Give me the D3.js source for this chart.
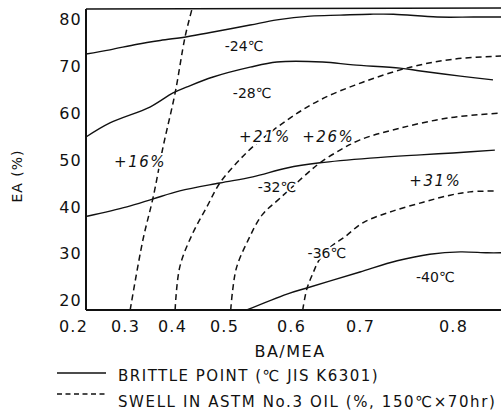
<!DOCTYPE html>
<html>
<head>
<meta charset="utf-8">
<script src="https://cdn.jsdelivr.net/npm/d3@7"></script>
<style>
body { margin: 0; background: #fff; }
svg text { font-family: "DejaVu Sans", sans-serif; fill: #111; }
</style>
</head>
<body>
<div id="chart"></div>
<script>
// tick labels
const xTicks = [0.2, 0.3, 0.4, 0.5, 0.6, 0.7, 0.8];
const yTicks = [20, 30, 40, 50, 60, 70, 80];

// brittle point contours (solid), [BA/MEA, EA %]
const brittleA = [[0.225,72.6],[0.271,73.5],[0.326,74.7],[0.375,75.5],[0.429,76.3],[0.479,77.3],[0.539,78.8],[0.579,79.9],[0.628,80.7],[0.671,80.9],[0.711,81.1],[0.736,81.1],[0.783,80.5],[0.822,80.5],[0.852,80.5]];
const brittleB = [[0.225,54.9],[0.271,57.9],[0.353,61.3],[0.402,64.3],[0.429,65.6],[0.479,67.7],[0.539,69.8],[0.579,70.9],[0.646,70.9],[0.690,70.3],[0.743,69.6],[0.765,69.0],[0.808,67.9],[0.843,67.1]];
const brittleC = [[0.227,38.0],[0.304,40.0],[0.360,41.7],[0.415,43.4],[0.492,45.1],[0.543,46.4],[0.594,48.3],[0.642,49.4],[0.711,50.4],[0.765,51.1],[0.800,51.5],[0.845,52.1]];
const brittleD = [[0.534,18.0],[0.594,21.4],[0.623,22.7],[0.657,24.2],[0.700,26.1],[0.740,28.5],[0.775,29.9],[0.808,30.4],[0.837,30.2],[0.852,30.2]];

// swell contours (dashed)
const swell16 = [[0.311,18],[0.338,32.9],[0.360,42.1],[0.381,52.8],[0.406,64.3],[0.425,76.2],[0.438,82.0]];
const swell21 = [[0.406,18],[0.415,27.2],[0.440,34.4],[0.467,40.0],[0.492,45.1],[0.519,49.4],[0.546,53.2],[0.594,58.5],[0.642,62.8],[0.703,66.6],[0.754,69.8],[0.800,71.5],[0.852,72.2]];
const swell26 = [[0.510,18],[0.513,22.3],[0.519,27.2],[0.536,32.9],[0.557,38.3],[0.584,41.9],[0.624,47.2],[0.642,49.4],[0.671,52.1],[0.700,54.3],[0.743,56.8],[0.796,59.0],[0.852,60.0]];
const swell31 = [[0.617,18],[0.623,22.5],[0.632,25.9],[0.641,28.7],[0.657,31.4],[0.678,33.6],[0.703,36.6],[0.732,38.9],[0.768,41.0],[0.797,42.5],[0.818,43.2],[0.844,43.4]];

const brittleLabels = [
    { text: '-24℃', at: [0.530, 74.3] },
    { text: '-28℃', at: [0.542, 64.3] },
    { text: '-32℃', at: [0.579, 44.2] },
    { text: '-36℃', at: [0.652, 30.2] },
    { text: '-40℃', at: [0.781, 25.0] }
];
const swellLabels = [
    { text: '+16%', at: [0.332, 49.6] },
    { text: '+21%', at: [0.561, 54.9] },
    { text: '+26%', at: [0.654, 54.9] },
    { text: '+31%', at: [0.781, 45.7] }
];

const width = 501;
const height = 412;
const plotLeft = 86, plotRight = 501, plotTop = 8, plotBottom = 310;

// the printed x axis is not evenly spaced, so the scale is piecewise
let xScale = d3.scaleLinear()
    .domain(xTicks)
    .range([73, 125, 172, 224, 291, 360, 453]);

let yScale = d3.scaleLinear()
    .domain([18, 82])
    .range([plotBottom, 10]);

let svg = d3.select('#chart').append('svg')
    .attr('width', width)
    .attr('height', height);

svg.append('clipPath').attr('id', 'plot-clip')
    .append('rect')
    .attr('x', plotLeft).attr('y', plotTop)
    .attr('width', plotRight - plotLeft).attr('height', plotBottom - plotTop);

let line = d3.line()
    .x(d => xScale(d[0]))
    .y(d => yScale(d[1]))
    .curve(d3.curveCatmullRom.alpha(0.5));

let plot = svg.append('g').attr('clip-path', 'url(#plot-clip)');

plot.selectAll('path.brittle')
    .data([brittleA, brittleB, brittleC, brittleD])
    .enter().append('path')
    .attr('class', 'brittle')
    .attr('d', line)
    .attr('fill', 'none')
    .attr('stroke', '#111')
    .attr('stroke-width', 1.4);

plot.selectAll('path.swell')
    .data([swell16, swell21, swell26, swell31])
    .enter().append('path')
    .attr('class', 'swell')
    .attr('d', line)
    .attr('fill', 'none')
    .attr('stroke', '#111')
    .attr('stroke-width', 1.5)
    .attr('stroke-dasharray', '6,4');

// frame
svg.append('line')
    .attr('x1', plotLeft).attr('x2', plotRight).attr('y1', plotTop + 1).attr('y2', plotTop)
    .attr('stroke', '#111').attr('stroke-width', 1.5);
svg.append('line')
    .attr('x1', plotLeft).attr('x2', plotRight).attr('y1', plotBottom).attr('y2', plotBottom)
    .attr('stroke', '#111').attr('stroke-width', 1.8);
svg.append('line')
    .attr('x1', plotLeft).attr('x2', plotLeft).attr('y1', plotTop + 1).attr('y2', plotBottom)
    .attr('stroke', '#111').attr('stroke-width', 2);

// contour labels, white halo breaks the curves under them
let labels = svg.append('g');
labels.selectAll('text.brittle-label')
    .data(brittleLabels)
    .enter().append('text')
    .attr('class', 'brittle-label')
    .attr('x', d => xScale(d.at[0]))
    .attr('y', d => yScale(d.at[1]))
    .attr('dy', '0.36em')
    .attr('text-anchor', 'middle')
    .attr('font-size', 14)
    .attr('stroke', '#fff').attr('stroke-width', 4).attr('paint-order', 'stroke')
    .text(d => d.text);
labels.selectAll('text.swell-label')
    .data(swellLabels)
    .enter().append('text')
    .attr('class', 'swell-label')
    .attr('x', d => xScale(d.at[0]))
    .attr('y', d => yScale(d.at[1]))
    .attr('dy', '0.36em')
    .attr('text-anchor', 'middle')
    .attr('font-size', 15)
    .attr('letter-spacing', 1.5)
    .attr('font-style', 'italic')
    .attr('stroke', '#fff').attr('stroke-width', 4).attr('paint-order', 'stroke')
    .text(d => d.text);

// axes
let xAxis = svg.append('g')
    .attr('transform', `translate(0, ${plotBottom})`)
    .call(d3.axisBottom(xScale).tickValues(xTicks).tickSize(0).tickPadding(11).tickFormat(d3.format('.1f')));
xAxis.select('.domain').remove();
xAxis.selectAll('text').attr('font-size', 16).attr('letter-spacing', 1.2);
xAxis.attr('font-family', null);

let yAxis = svg.append('g')
    .attr('transform', `translate(${plotLeft}, 0)`)
    .call(d3.axisLeft(yScale).tickValues(yTicks).tickSize(0).tickPadding(4));
yAxis.select('.domain').remove();
yAxis.selectAll('text').attr('font-size', 16).attr('letter-spacing', 1.2);
yAxis.attr('font-family', null);

svg.append('text')
    .attr('x', 290).attr('y', 357)
    .attr('text-anchor', 'middle')
    .attr('font-size', 16)
    .attr('letter-spacing', 1.5)
    .text('BA/MEA');

svg.append('text')
    .attr('transform', 'translate(22, 176) rotate(-90)')
    .attr('text-anchor', 'middle')
    .attr('font-size', 14)
    .attr('letter-spacing', 1)
    .text('EA (%)');

// legend
svg.append('line')
    .attr('x1', 57).attr('x2', 106).attr('y1', 373).attr('y2', 373)
    .attr('stroke', '#111').attr('stroke-width', 1.4);
svg.append('text')
    .attr('x', 118).attr('y', 381)
    .attr('font-size', 15)
    .attr('letter-spacing', 1.5)
    .text('BRITTLE POINT (℃ JIS K6301)');
svg.append('line')
    .attr('x1', 57).attr('x2', 106).attr('y1', 394).attr('y2', 394)
    .attr('stroke', '#111').attr('stroke-width', 1.4)
    .attr('stroke-dasharray', '5,3.5');
svg.append('text')
    .attr('x', 118).attr('y', 407)
    .attr('font-size', 15)
    .attr('letter-spacing', 1.6)
    .text('SWELL IN ASTM No.3 OIL (%, 150℃×70hr)');
</script>
</body>
</html>
